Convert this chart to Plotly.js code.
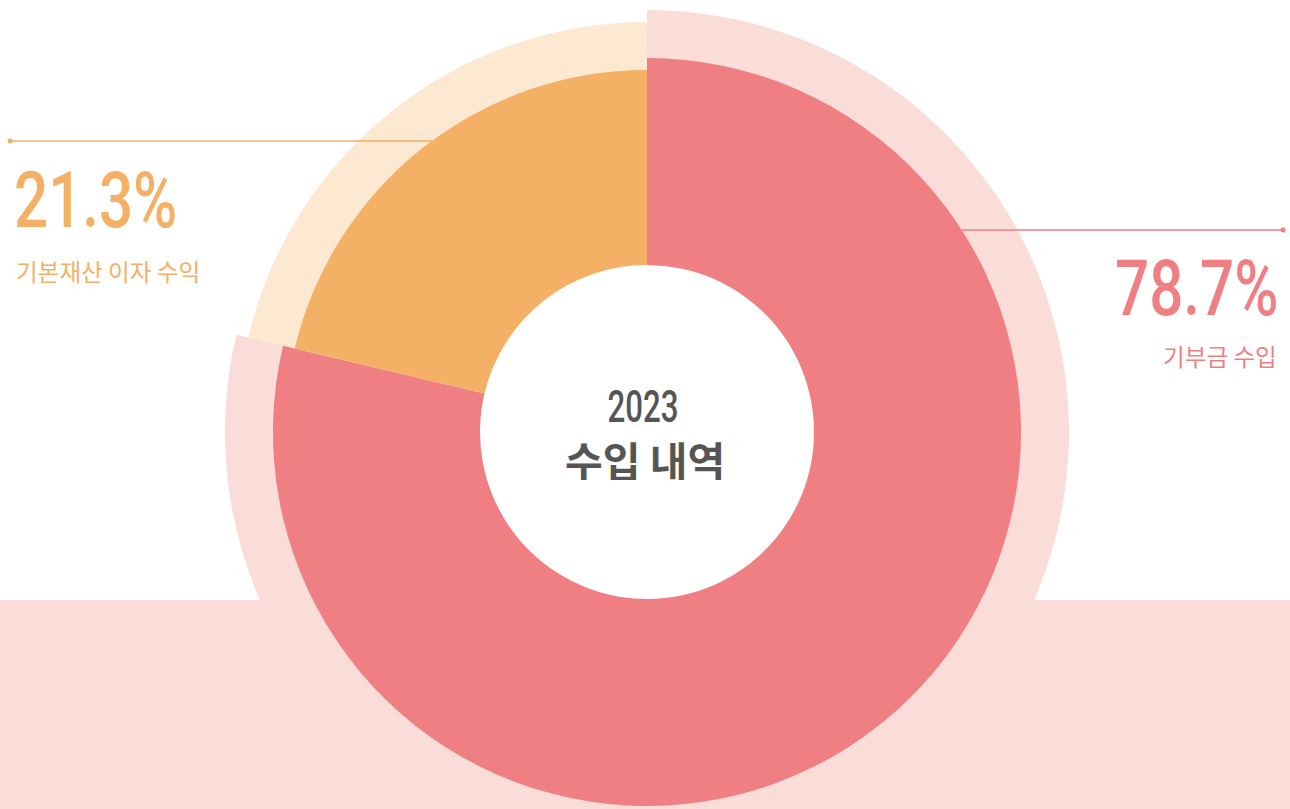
<!DOCTYPE html>
<html>
<head>
<meta charset="utf-8">
<script src="https://cdn.plot.ly/plotly-3.0.1.min.js"></script>
<style>
html,body{margin:0;padding:0;width:1290px;height:809px;overflow:hidden;background:#fff;}
#wrap{width:1290px;height:809px;overflow:hidden;}
#chart{width:1290px;height:900px;}
g.annotation[data-index="0"] text.annotation-text{transform-box:fill-box;transform-origin:0% 50%;transform:scaleX(0.78);}
g.annotation[data-index="2"] text.annotation-text{transform-box:fill-box;transform-origin:100% 50%;transform:scaleX(0.78);}
g.annotation[data-index="4"] text.annotation-text{transform-box:fill-box;transform-origin:50% 50%;transform:scaleX(0.71);}
</style>
</head>
<body>
<div id="wrap"><div id="chart"></div></div>
<script>
// ---- data ----
const categories = ['기본재산 이자 수익', '기부금 수입'];
const shares = [21.3, 78.7];
const shareLabels = ['21.3%', '78.7%'];
const centerYear = '2023';
const centerTitle = '수입 내역';

// ---- styling ----
const W = 1290, H = 900;
const CX = 647, CY = 432;
const ORANGE = '#F4B064', PINK = '#EF7F82';
const ORANGE_LIGHT = '#FDE8D2', PINK_LIGHT = '#FADCD9';
const CLEAR = 'rgba(0,0,0,0)';
const HOLE_R = 167;

function px(x){ return x / W; }
function py(y){ return (H - y) / H; }
function dom(R){
  return { x: [(CX - R) / W, (CX + R) / W], y: [(H - CY - R) / H, (H - CY + R) / H] };
}
// slices drawn clockwise from 12 o'clock: 기부금 수입 first, then 기본재산 이자 수익
function ring(R, colorOrange, colorPink, holeFrac){
  return {
    type: 'pie',
    labels: [categories[1], categories[0]],
    values: [shares[1], shares[0]],
    sort: false,
    direction: 'clockwise', rotation: 0,
    domain: dom(R), hole: holeFrac,
    marker: { colors: [colorPink, colorOrange], line: { width: 0 } },
    textinfo: 'none', hoverinfo: 'skip', showlegend: false
  };
}

const traces = [
  ring(422, CLEAR, PINK_LIGHT, 0.8),
  ring(410, ORANGE_LIGHT, CLEAR, 0.8),
  ring(374, CLEAR, PINK, HOLE_R / 374),
  ring(362, ORANGE, CLEAR, HOLE_R / 362)
];

const NUM_FONT = 'Roboto, Liberation Sans, sans-serif';
const KR_FONT = 'Noto Sans CJK KR, Noto Sans, sans-serif';

const layout = {
  width: W, height: H,
  margin: { l: 0, r: 0, t: 0, b: 0 },
  paper_bgcolor: '#fff',
  showlegend: false,
  shapes: [
    { type: 'rect', xref: 'paper', yref: 'paper', x0: 0, x1: 1, y0: 0, y1: py(600),
      fillcolor: PINK_LIGHT, line: { width: 0 }, layer: 'below' },
    { type: 'line', xref: 'paper', yref: 'paper', x0: px(10), x1: px(432), y0: py(141), y1: py(141),
      line: { color: ORANGE, width: 1.5 } },
    { type: 'circle', xref: 'paper', yref: 'paper', x0: px(7.5), x1: px(12.5), y0: py(138.5), y1: py(143.5),
      fillcolor: ORANGE, line: { width: 0 } },
    { type: 'line', xref: 'paper', yref: 'paper', x0: px(962), x1: px(1283), y0: py(230), y1: py(230),
      line: { color: PINK, width: 1.5 } },
    { type: 'circle', xref: 'paper', yref: 'paper', x0: px(1280.5), x1: px(1285.5), y0: py(227.5), y1: py(232.5),
      fillcolor: PINK, line: { width: 0 } }
  ],
  annotations: [
    { xref: 'paper', yref: 'paper', x: px(12), y: py(201), xanchor: 'left', yanchor: 'middle',
      text: shareLabels[0], showarrow: false, font: { family: NUM_FONT, size: 77, weight: 500, color: ORANGE } },
    { xref: 'paper', yref: 'paper', x: px(14), y: py(271), xanchor: 'left', yanchor: 'middle',
      text: categories[0], showarrow: false, font: { family: KR_FONT, size: 23.6, color: ORANGE } },
    { xref: 'paper', yref: 'paper', x: px(1280), y: py(289), xanchor: 'right', yanchor: 'middle',
      text: shareLabels[1], showarrow: false, font: { family: NUM_FONT, size: 77, weight: 500, color: PINK } },
    { xref: 'paper', yref: 'paper', x: px(1279), y: py(356), xanchor: 'right', yanchor: 'middle',
      text: categories[1], showarrow: false, font: { family: KR_FONT, size: 23.6, color: PINK } },
    { xref: 'paper', yref: 'paper', x: px(643), y: py(407), xanchor: 'center', yanchor: 'middle', height: 34,
      text: centerYear, showarrow: false, font: { family: NUM_FONT, size: 44, weight: 500, color: '#555555' } },
    { xref: 'paper', yref: 'paper', x: px(645), y: py(459), xanchor: 'center', yanchor: 'middle', height: 42,
      text: '<b>' + centerTitle + '</b>', showarrow: false, font: { family: KR_FONT, size: 41, color: '#555555' } }
  ]
};

Plotly.newPlot('chart', traces, layout, { displayModeBar: false, staticPlot: true });
</script>
</body>
</html>
